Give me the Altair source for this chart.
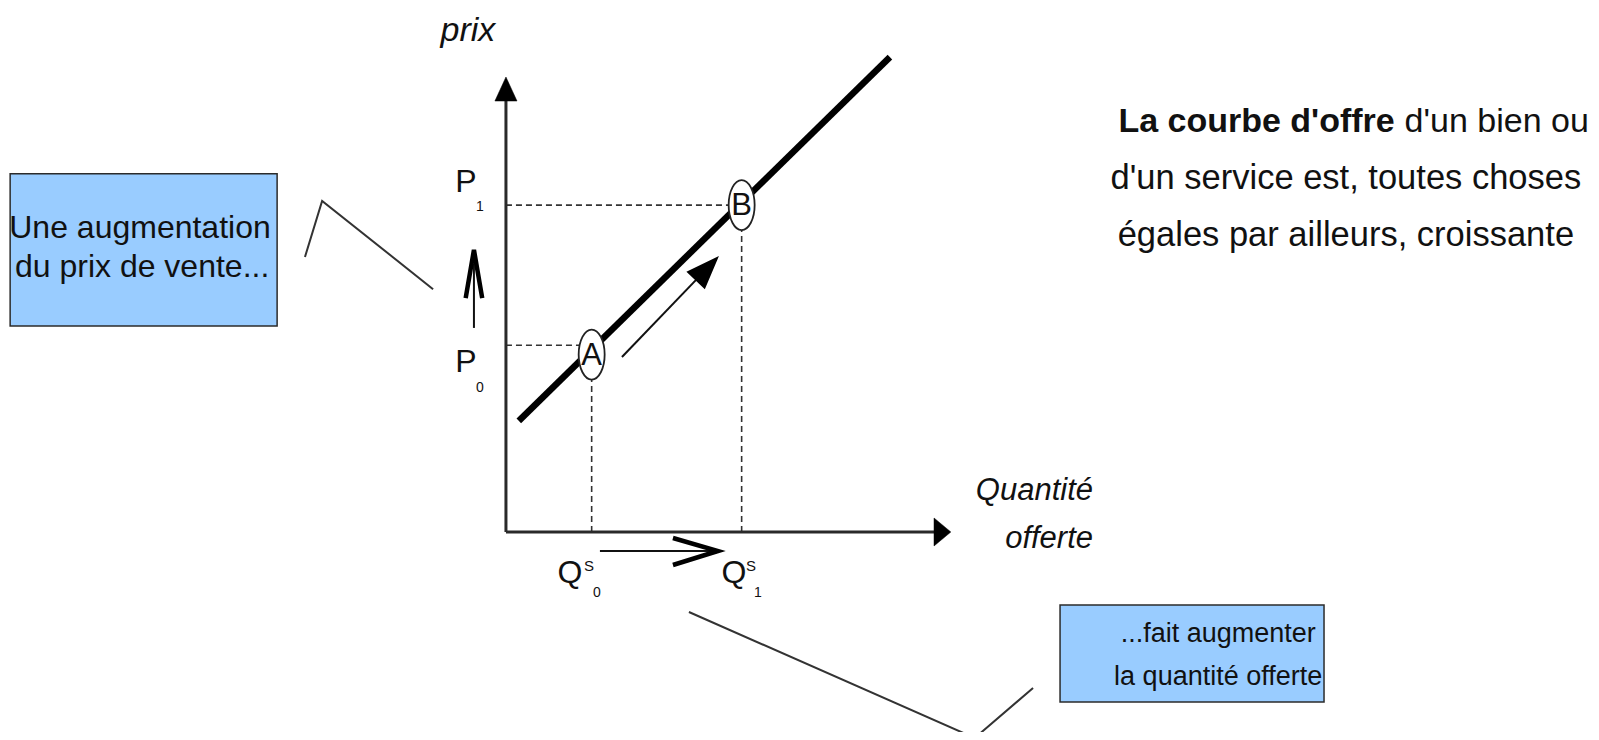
import altair as alt
import pandas as pd

# ---------------- data (diagram units: quantity / price) ----------------
Q0, Q1 = 2.0, 5.5          # quantities offered
P0, P1 = 4.0, 7.0          # prices
supply_q = [0.3, 8.96]     # supply curve end points
supply_p = [2.38, 10.17]
point_names = ["A", "B"]
point_q = [2.0, 5.5]
point_p = [3.8, 7.0]

# axis extents
axis_x_end = 10.06
axis_y_end = 9.36
arrow_x_head = [10.185, 0.0]
arrow_y_head = [0.0, 9.486]

# movement arrows
move_line_q = [2.707, 4.683]
move_line_p = [3.747, 5.634]
up_line_q = [-0.747, -0.747]
up_line_p = [4.37, 5.75]
up_head_q = [-0.94, -0.747, -0.554]
up_head_p = [5.01, 6.04, 5.01]
right_line_q = [2.193, 4.807]
right_line_p = [-0.407, -0.407]
right_head_q = [3.897, 4.947, 3.897]
right_head_p = [-0.128, -0.407, -0.707]

# callout boxes and pointers
left_box = [-11.57, -5.34, 7.67, 4.41]
right_box = [12.93, 19.09, -1.563, -3.64]
left_ptr_q = [-4.69, -4.29, -1.70]
left_ptr_p = [5.89, 7.09, 5.20]
bottom_ptr_q = [4.27, 10.94, 12.30]
bottom_ptr_p = [-1.713, -4.411, -3.340]

X_DOMAIN = [-11.62, 25.32]
Y_DOMAIN = [-4.283, 11.221]

FONT = "Liberation Sans, Arial, sans-serif"
INK = "#111111"
LINE = "#2a2a2a"

xsc = alt.Scale(domain=X_DOMAIN, nice=False, zero=False)
ysc = alt.Scale(domain=Y_DOMAIN, nice=False, zero=False)


def X(f="q"):
    return alt.X(f"{f}:Q", scale=xsc, axis=None)


def Y(f="p"):
    return alt.Y(f"{f}:Q", scale=ysc, axis=None)


def segs(rows):
    return pd.DataFrame(rows, columns=["q", "p", "q2", "p2"])


def rules(df, **kw):
    return alt.Chart(df).mark_rule(**kw).encode(
        x=X("q"), y=Y("p"), x2="q2:Q", y2="p2:Q")


def poly(qs, ps, **kw):
    df = pd.DataFrame({"q": qs, "p": ps, "o": list(range(len(qs)))})
    return alt.Chart(df).mark_line(**kw).encode(x=X(), y=Y(), order="o:O")


def texts(rows, size, align="center", baseline="middle", style="normal",
          weight="normal", color=INK):
    df = pd.DataFrame(rows, columns=["q", "p", "t"])
    return alt.Chart(df).mark_text(
        font=FONT, fontSize=size, align=align, baseline=baseline,
        fontStyle=style, fontWeight=weight, color=color
    ).encode(x=X(), y=Y(), text="t:N")


# dashed guide lines
guides = rules(segs([
    [0, P1, Q1, P1],
    [0, P0, Q0, P0],
    [Q0, 0, Q0, P0],
    [Q1, 0, Q1, P1],
]), color="#333333", strokeWidth=1.6, strokeDash=[6, 4])

# axes
axes = rules(segs([
    [0, 0, 0, axis_y_end],
    [0, 0, axis_x_end, 0],
]), color=LINE, strokeWidth=3)

head_df = pd.DataFrame({"q": arrow_x_head, "p": arrow_y_head})
x_head = alt.Chart(head_df.iloc[[0]]).mark_point(
    shape="M 0.6 0 L -0.6 -1 L -0.6 1 Z", size=784, filled=True,
    fill="#000000", stroke="#000000", strokeWidth=0.5, opacity=1
).encode(x=X(), y=Y())
y_head = alt.Chart(head_df.iloc[[1]]).mark_point(
    shape="M 0 -1 L 0.92 1 L -0.92 1 Z", size=576, filled=True,
    fill="#000000", stroke="#000000", strokeWidth=0.5, opacity=1
).encode(x=X(), y=Y())

# supply curve
supply = poly(supply_q, supply_p, color="#000000", strokeWidth=6.5)

# points A / B
pts_df = pd.DataFrame({"q": point_q, "p": point_p, "t": point_names})
ellipses = alt.Chart(pts_df).mark_point(
    shape="M -0.52 0 A 0.52 1 0 1 1 0.52 0 A 0.52 1 0 1 1 -0.52 0 Z",
    size=2500, filled=True, fill="white", stroke="#222222",
    strokeWidth=1.8, opacity=1
).encode(x=X(), y=Y())
letters = alt.Chart(pts_df).mark_text(
    font=FONT, fontSize=31, color=INK, baseline="middle", dy=1
).encode(x=X(), y=Y(), text="t:N")

# movement arrow along the curve
move_line = poly(move_line_q, move_line_p, color="#111111", strokeWidth=2)
move_head = alt.Chart(pd.DataFrame({"q": [move_line_q[1]],
                                    "p": [move_line_p[1]]})).mark_point(
    shape="M 0 -1 L 0.75 1 L -0.75 1 Z", size=900, angle=43.5, filled=True,
    fill="#000000", stroke="#000000", opacity=1
).encode(x=X(), y=Y())

# up arrow (price) and right arrow (quantity)
up_line = poly(up_line_q, up_line_p, color="#111111", strokeWidth=2)
up_head = poly(up_head_q, up_head_p, color="#000000", strokeWidth=4.5,
               strokeJoin="miter")
right_line = poly(right_line_q, right_line_p, color="#111111", strokeWidth=2)
right_head = poly(right_head_q, right_head_p, color="#000000", strokeWidth=4.5,
                  strokeJoin="miter")

# axis / point labels
prix = texts([[-0.887, 10.51, "prix"]], 34, baseline="alphabetic",
             style="italic")
qty = texts([[13.70, 0.685, "Quantité"], [13.70, -0.343, "offerte"]], 31,
            align="right", baseline="alphabetic", style="italic")
p_main = texts([[-0.933, 7.49, "P"], [-0.933, 3.64, "P"]], 32)
p_sub = texts([[-0.607, 6.96, "1"], [-0.607, 3.08, "0"]], 14)
q_main = texts([[1.493, -0.878, "Q"], [5.32, -0.878, "Q"]], 32)
q_sup = texts([[1.937, -0.728, "S"], [5.717, -0.728, "S"]], 15)
q_sub = texts([[2.123, -1.306, "0"], [5.88, -1.306, "1"]], 14)

# callout boxes
box_df = pd.DataFrame([left_box, right_box], columns=["q", "q2", "p", "p2"])
boxes = alt.Chart(box_df).mark_rect(
    fill="#99CCFF", stroke="#2b2b2b", strokeWidth=1.5
).encode(x=X("q"), x2="q2:Q", y=Y("p"), y2="p2:Q")

left_txt = texts([[-8.54, 6.296, "Une augmentation"],
                  [-8.49, 5.46, "du prix de vente..."]], 32,
                 baseline="alphabetic")
right_txt = texts([[16.62, -2.355, "...fait augmenter"],
                   [16.62, -3.276, "la quantité offerte"]], 27,
                  baseline="alphabetic")

left_ptr = poly(left_ptr_q, left_ptr_p, color="#333333", strokeWidth=2)
bottom_ptr = poly(bottom_ptr_q, bottom_ptr_p, color="#333333", strokeWidth=2)

# definition paragraph
para_bold = texts([[20.74, 8.556, "La courbe d'offre"]], 34, align="right",
                  baseline="alphabetic", weight="bold")
para_reg = texts([[20.97, 8.556, "d'un bien ou"]], 34, align="left",
                 baseline="alphabetic")
para_rest = texts([[19.6, 7.345, "d'un service est, toutes choses"],
                   [19.6, 6.135, "égales par ailleurs, croissante"]], 34.5,
                  baseline="alphabetic")

chart = alt.layer(
    guides, axes, x_head, y_head, supply, ellipses, letters,
    move_line, move_head, up_line, up_head, right_line, right_head,
    prix, qty, p_main, p_sub, q_main, q_sup, q_sub,
    boxes, left_txt, right_txt, left_ptr, bottom_ptr,
    para_bold, para_reg, para_rest,
).properties(
    width=1583, height=724, padding=0,
    autosize=alt.AutoSizeParams(type="none"),
    background="white",
).configure_view(stroke=None)

chart.save("out.html", embed_options={"renderer": "svg", "actions": False})
